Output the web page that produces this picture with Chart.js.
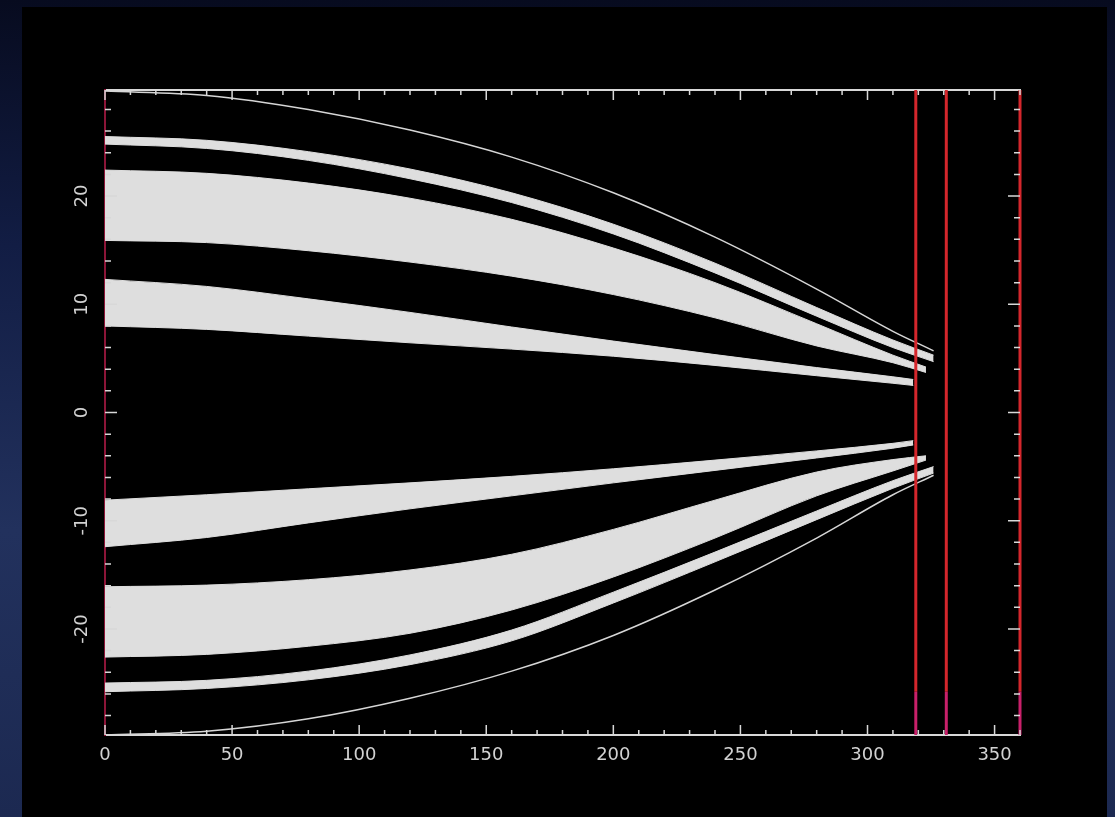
<!DOCTYPE html>
<html>
<head>
<meta charset="utf-8">
<title>Beam envelope</title>
<script src="https://cdn.jsdelivr.net/npm/chart.js@4.4.1/dist/chart.umd.min.js"></script>
<style>
  html, body { margin: 0; padding: 0; }
  body {
    width: 1115px; height: 817px; overflow: hidden; position: relative;
    background: linear-gradient(to bottom, #070b1f 0%, #121d44 30%, #22315d 65%, #1c2951 100%);
  }
  #panel { position: absolute; left: 22px; top: 7px; width: 1085px; height: 810px; background: #000; }
  #plot { position: absolute; left: 0; top: 0; }
</style>
</head>
<body>
<div id="panel"></div>
<canvas id="plot" width="1115" height="817"></canvas>
<script>
// positions along the axis (shared), tip position is added per band
const zPos = [0, 40, 80, 120, 160, 200, 240, 280, 310];
// tip of: outer line, band 2, band 3, band 4
const tipZ = [326, 326, 323, 318];

// upper half
const outerUp   = [29.7, 29.3, 28.0, 26.1, 23.6, 20.3, 16.2, 11.4, 7.5, 5.7];
const band2UpHi = [25.5, 25.15, 24.1, 22.5, 20.3, 17.4, 13.8, 9.7, 6.7, 5.3];
const band2UpLo = [24.8, 24.4, 23.3, 21.6, 19.4, 16.5, 12.9, 8.9, 6.0, 4.7];
const band3UpHi = [22.4, 22.1, 21.2, 19.8, 17.85, 15.2, 12.0, 8.2, 5.3, 4.2];
const band3UpLo = [15.9, 15.7, 14.95, 13.9, 12.6, 10.9, 8.75, 6.15, 4.6, 3.7];
const band4UpHi = [12.3, 11.65, 10.5, 9.25, 7.9, 6.6, 5.35, 4.15, 3.3, 3.05];
const band4UpLo = [8.0, 7.68, 7.06, 6.44, 5.86, 5.2, 4.35, 3.4, 2.7, 2.5];

// lower half
const band4DnHi = [-8.1, -7.6, -7.05, -6.5, -5.9, -5.2, -4.4, -3.55, -2.85, -2.6];
const band4DnLo = [-12.4, -11.55, -10.2, -8.9, -7.7, -6.5, -5.35, -4.2, -3.3, -3.0];
const band3DnHi = [-16.1, -15.95, -15.45, -14.55, -13.1, -10.8, -8.1, -5.5, -4.35, -4.0];
const band3DnLo = [-22.6, -22.35, -21.6, -20.4, -18.25, -15.2, -11.6, -7.7, -5.4, -4.4];
const band2DnHi = [-25.0, -24.75, -23.9, -22.4, -20.1, -16.6, -12.9, -9.1, -6.3, -5.0];
const band2DnLo = [-25.8, -25.5, -24.7, -23.3, -21.1, -17.6, -13.8, -9.9, -7.0, -5.6];
const outerDn   = [-29.8, -29.45, -28.3, -26.4, -23.9, -20.6, -16.4, -11.6, -7.6, -5.8];

// red marker lines (the last one is the right frame)
const redZ = [319, 331, 360];
const colorBreakY = -25.8;

// axes
const xTickValues = [0, 50, 100, 150, 200, 250, 300, 350];
const yTickValues = [-20, -10, 0, 10, 20];
const xMinorStep = 10;
const yMinorStep = 2;
const xMin = 0, xMax = 360, yMin = -29.8, yMax = 29.8;

const bandGrey = '#dedede';

function pts(zs, ys) {
    return ys.map((v, i) => ({ x: zs[i], y: v }));
}

function bandSets(hi, lo, tip) {
    const zs = zPos.concat([tip]);
    const base = { borderColor: bandGrey, borderWidth: 1, pointRadius: 0, cubicInterpolationMode: 'monotone', order: 2 };
    return [
        { ...base, data: pts(zs, hi), fill: false },
        { ...base, data: pts(zs, lo), fill: '-1', backgroundColor: bandGrey }
    ];
}

function lineSet(ys, tip) {
    return { data: pts(zPos.concat([tip]), ys), borderColor: '#d6d6d6', borderWidth: 1.5,
             pointRadius: 0, cubicInterpolationMode: 'monotone', fill: false, order: 2 };
}

function redSet(z) {
    return {
        data: [{ x: z, y: yMax }, { x: z, y: colorBreakY }, { x: z, y: yMin }],
        borderWidth: 3, pointRadius: 0, fill: false, order: 0, clip: false,
        borderColor: '#d4262c',
        segment: { borderColor: c => c.p0DataIndex === 0 ? '#d4262c' : '#c8206a' }
    };
}

const datasets = [
    ...redZ.map(redSet),
    lineSet(outerUp, tipZ[0]),
    ...bandSets(band2UpHi, band2UpLo, tipZ[1]),
    ...bandSets(band3UpHi, band3UpLo, tipZ[2]),
    ...bandSets(band4UpHi, band4UpLo, tipZ[3]),
    ...bandSets(band4DnHi, band4DnLo, tipZ[3]),
    ...bandSets(band3DnHi, band3DnLo, tipZ[2]),
    ...bandSets(band2DnHi, band2DnLo, tipZ[1]),
    lineSet(outerDn, tipZ[0])
];

// inward tick marks on all four sides
const tickMarks = {
    id: 'tickMarks',
    afterDraw(chart) {
        const { ctx, chartArea: a, scales: { x, y } } = chart;
        ctx.save();
        ctx.strokeStyle = '#d8d8d8';
        ctx.lineWidth = 1.5;
        ctx.beginPath();
        for (let v = xMin; v <= xMax; v += xMinorStep) {
            const px = x.getPixelForValue(v);
            const len = xTickValues.includes(v) ? 10 : 5;
            ctx.moveTo(px, a.bottom); ctx.lineTo(px, a.bottom - len);
            ctx.moveTo(px, a.top); ctx.lineTo(px, a.top + len);
        }
        for (let v = -28; v <= 28; v += yMinorStep) {
            const py = y.getPixelForValue(v);
            const len = yTickValues.includes(v) ? 12 : 6;
            ctx.moveTo(a.left, py); ctx.lineTo(a.left + len, py);
            ctx.moveTo(a.right, py); ctx.lineTo(a.right - len, py);
        }
        ctx.stroke();
        ctx.restore();
    }
};

const labelFont = { family: 'DejaVu Sans', size: 18 };

new Chart(document.getElementById('plot'), {
    type: 'line',
    data: { datasets },
    plugins: [tickMarks],
    options: {
        responsive: false,
        animation: false,
        layout: { padding: 0 },
        plugins: { legend: { display: false }, tooltip: { enabled: false } },
        scales: {
            x: {
                type: 'linear', position: 'bottom', min: xMin, max: xMax,
                afterBuildTicks: s => { s.ticks = xTickValues.map(v => ({ value: v })); },
                afterFit: s => { s.height = 82; },
                grid: { display: false, drawTicks: false },
                border: { display: true, color: '#d8d8d8', width: 2 },
                ticks: { color: '#d2d2d2', font: labelFont, padding: 10, maxRotation: 0, autoSkip: false }
            },
            xTop: {
                type: 'linear', position: 'top', min: xMin, max: xMax,
                afterFit: s => { s.height = 90; },
                grid: { display: false, drawTicks: false },
                border: { display: true, color: '#d8d8d8', width: 2 },
                ticks: { display: false }
            },
            y: {
                type: 'linear', position: 'left', min: yMin, max: yMax,
                afterBuildTicks: s => { s.ticks = yTickValues.map(v => ({ value: v })); },
                afterFit: s => { s.width = 105; },
                grid: { display: false, drawTicks: false },
                border: { display: true, color: '#8c1538', width: 2 },
                ticks: { color: '#d2d2d2', font: labelFont, padding: 8, minRotation: 90, maxRotation: 90, crossAlign: 'center', autoSkip: false }
            },
            yRight: {
                type: 'linear', position: 'right', min: yMin, max: yMax,
                afterFit: s => { s.width = 95; },
                grid: { display: false, drawTicks: false },
                border: { display: false },
                ticks: { display: false }
            }
        }
    }
});
</script>
</body>
</html>
